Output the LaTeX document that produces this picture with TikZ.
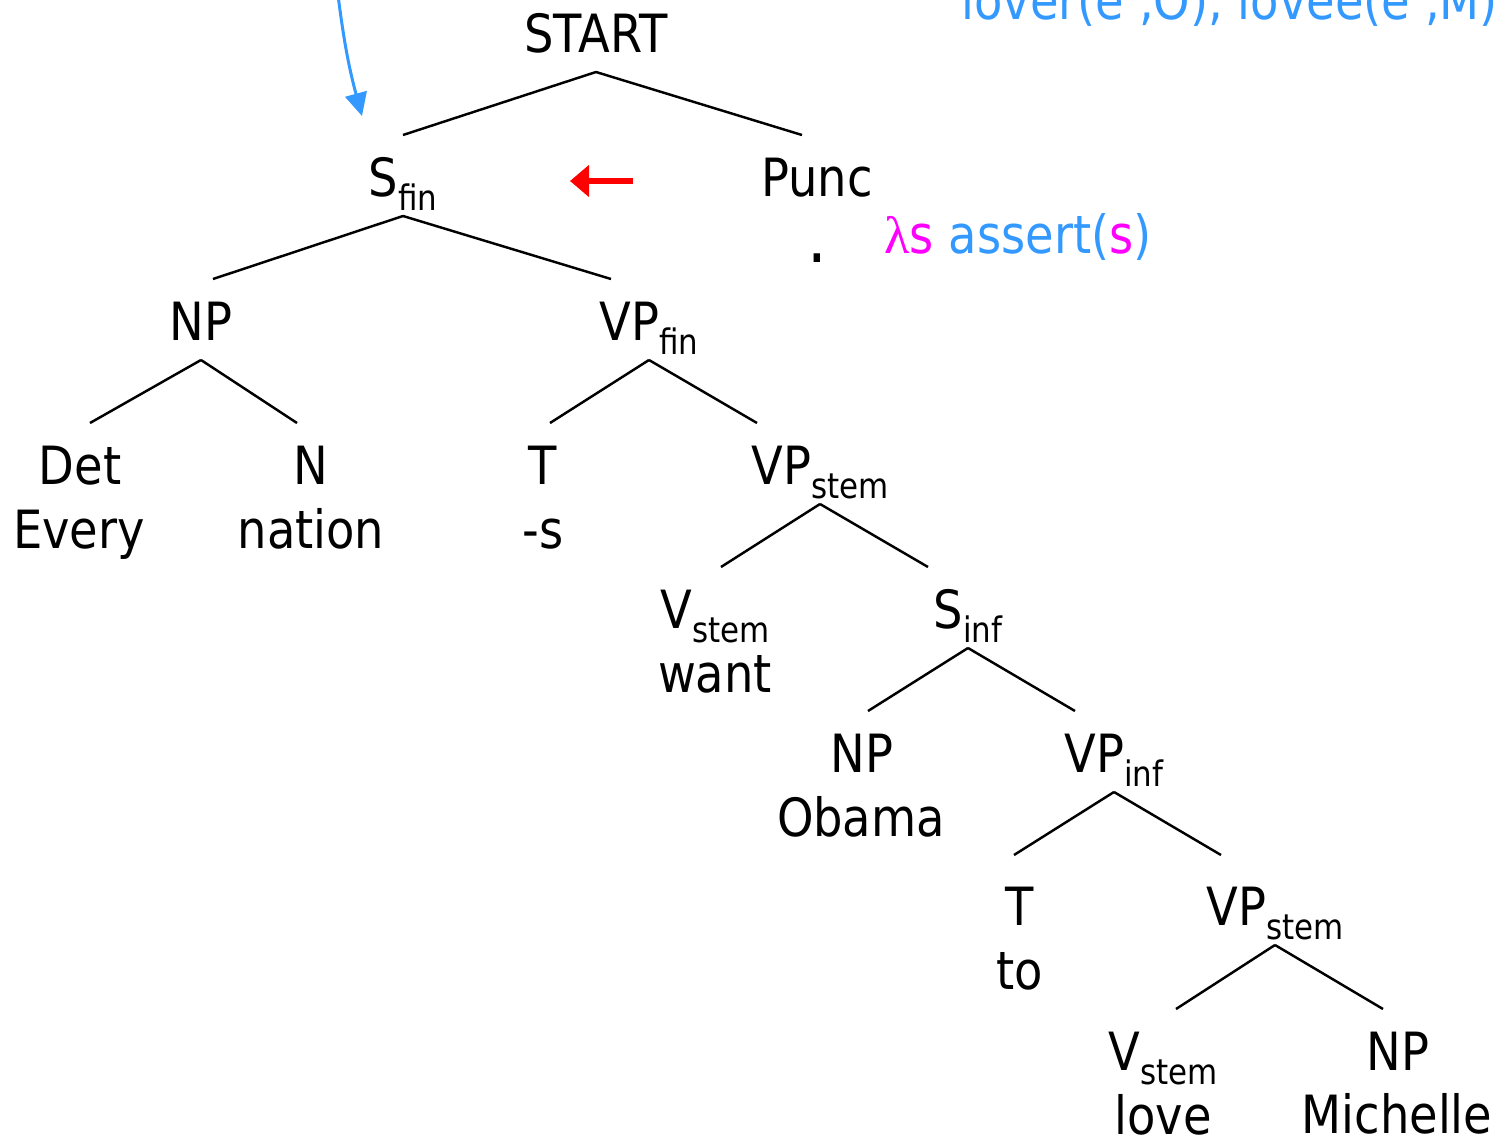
\documentclass[tikz,border=0pt]{standalone}
\usepackage{fontspec}
\setmainfont{DejaVu Sans}[FakeStretch=0.88]
\newfontfamily\greekfont{Liberation Serif}
\usetikzlibrary{arrows.meta}

\definecolor{semblue}{HTML}{3399FF}
\definecolor{semmag}{HTML}{FF00FF}

\newcommand{\lowsub}[1]{\raisebox{-8pt}{\fontsize{20}{24}\selectfont #1}}

\begin{document}
\begin{tikzpicture}[x=0.02cm,y=-0.02cm,
    cat/.style={anchor=base,inner sep=0pt,text height=0.82cm,text depth=0pt,
                outer ysep=0.4cm,font=\fontsize{30}{36}\selectfont},
    word/.style={anchor=base,inner sep=0pt,font=\fontsize{30}{36}\selectfont},
    edge/.style={line width=1.4pt}]
    \useasboundingbox (0,0) rectangle (1499,1139);
    \clip (0,0) rectangle (1499,1139);

    % categories
    \node[cat] (start) at (596,52) {START};
    \node[cat] (sfin) at (403,196) {S\lowsub{fin}};
    \node[cat] (punc) at (817,196) {Punc};
    \node[cat] (np1) at (201,340) {NP};
    \node[cat] (vpfin) at (649,340) {VP\lowsub{fin}};
    \node[cat] (det) at (80,484) {Det};
    \node[cat] (n) at (311,484) {N};
    \node[cat] (t1) at (543,484) {T};
    \node[cat] (vpstem1) at (820,484) {VP\lowsub{stem}};
    \node[cat] (vstem1) at (715,628) {V\lowsub{stem}};
    \node[cat] (sinf) at (968,628) {S\lowsub{inf}};
    \node[cat] (np2) at (862,772) {NP};
    \node[cat] (vpinf) at (1114,772) {VP\lowsub{inf}};
    \node[cat] (t2) at (1020,925) {T};
    \node[cat] (vpstem2) at (1275,925) {VP\lowsub{stem}};
    \node[cat] (vstem2) at (1163,1070) {V\lowsub{stem}};
    \node[cat] (np3) at (1398,1070) {NP};

    % words
    \node[word,font=\fontsize{40}{44}\selectfont] (dot) at (817,262) {.};
    \node[word] (every) at (79,548) {Every};
    \node[word] (nation) at (311,548) {nation};
    \node[word] (suffix) at (543,548) {-s};
    \node[word] (want) at (715,692) {want};
    \node[word] (obama) at (861,836) {Obama};
    \node[word] (to) at (1020,989) {to};
    \node[word] (love) at (1163,1134) {love};
    \node[word] (michelle) at (1397,1133) {Michelle};

    % branches
    \draw[edge] (start.south) -- (sfin.north);
    \draw[edge] (start.south) -- ([xshift=-0.3cm]punc.north);
    \draw[edge] (sfin.south) -- ([xshift=0.24cm]np1.north);
    \draw[edge] (sfin.south) -- ([xshift=-0.76cm]vpfin.north);
    \draw[edge] (np1.south) -- ([xshift=0.2cm]det.north);
    \draw[edge] (np1.south) -- ([xshift=-0.28cm]n.north);
    \draw[edge] (vpfin.south) -- ([xshift=0.14cm]t1.north);
    \draw[edge] (vpfin.south) -- ([xshift=-1.26cm]vpstem1.north);
    \draw[edge] (vpstem1.south) -- ([xshift=0.12cm]vstem1.north);
    \draw[edge] (vpstem1.south) -- ([xshift=-0.8cm]sinf.north);
    \draw[edge] (sinf.south) -- ([xshift=0.12cm]np2.north);
    \draw[edge] (sinf.south) -- ([xshift=-0.78cm]vpinf.north);
    \draw[edge] (vpinf.south) -- ([xshift=-0.12cm,yshift=0.18cm]t2.north);
    \draw[edge] (vpinf.south) -- ([xshift=-1.08cm,yshift=0.18cm]vpstem2.north);
    \draw[edge] (vpstem2.south) -- ([xshift=0.26cm]vstem2.north);
    \draw[edge] (vpstem2.south) -- ([xshift=-0.3cm]np3.north);

    % semantics
    \node[word,anchor=base west,text=semblue] (sem) at (884,253)
        {\textcolor{semmag}{{\greekfont λ}s} assert(\textcolor{semmag}{s})};
    \node[word,anchor=base west,text=semblue] (lovesem) at (961,19)
        {lover(e',O), lovee(e',M)};

    % pointers
    \coordinate (redtail) at (633,181);
    \coordinate (redtip) at (570,181);
    \draw[red,line width=0.12cm,-{Triangle[length=0.38cm,width=0.62cm]}] (redtail) -- (redtip);
    \coordinate (bluetail) at (338,-5);
    \coordinate (bluetip) at (362,116);
    \draw[semblue,line width=0.06cm,-{Triangle[length=0.46cm,width=0.44cm]}] (bluetail) to[bend right=4] (bluetip);
\end{tikzpicture}
\end{document}
